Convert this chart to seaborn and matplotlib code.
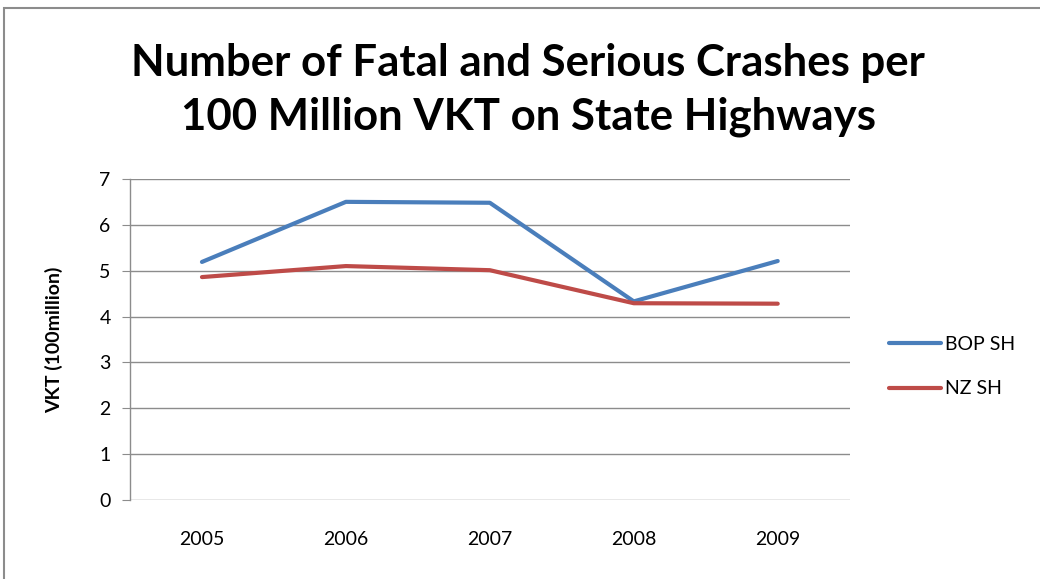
import pandas as pd
import matplotlib.pyplot as plt
import matplotlib.patches as patches
import seaborn as sns

years = ["2005", "2006", "2007", "2008", "2009"]
bop_sh = [5.19, 6.50, 6.48, 4.33, 5.21]
nz_sh = [4.86, 5.10, 5.01, 4.29, 4.28]
series_names = ["BOP SH", "NZ SH"]
colors = ["#4A7EBB", "#BE4B48"]

df = pd.DataFrame({
    "year": years * 2,
    "value": bop_sh + nz_sh,
    "series": [series_names[0]] * len(years) + [series_names[1]] * len(years),
})

sns.set_style("white")
plt.rcParams['font.family'] = ['Lato', 'DejaVu Sans']
plt.rcParams['text.color'] = 'black'
plt.rcParams['axes.labelcolor'] = 'black'
plt.rcParams['xtick.labelcolor'] = 'black'
plt.rcParams['ytick.labelcolor'] = 'black'

fig = plt.figure(figsize=(10.4, 5.79), dpi=100)
ax = fig.add_axes([0.125, 0.1364, 0.692, 0.5546])

# chart area border
fig.patches.append(patches.Rectangle((0.004, -0.05), 1.1, 1.036, transform=fig.transFigure,
                                     fill=False, edgecolor="#8c8c8c", linewidth=1.5))

sns.lineplot(data=df, x="year", y="value", hue="series", palette=colors,
             linewidth=3, sort=False, ax=ax)

ax.set_ylim(0, 7)
ax.set_xlim(-0.5, 4.5)
ax.set_yticks(range(0, 8))
ax.yaxis.grid(True, color="#8c8c8c", linewidth=1)
ax.xaxis.grid(False)
for s in ["top", "right", "bottom"]:
    ax.spines[s].set_visible(False)
ax.spines["left"].set_color("#8c8c8c")
ax.spines["left"].set_linewidth(1)
ax.tick_params(axis="y", length=6, color="#8c8c8c", labelsize=14, pad=8, left=True)
ax.tick_params(axis="x", length=0, labelsize=14, pad=22)
ax.set_xlabel("")
ax.set_ylabel("VKT (100million)", fontsize=14, fontweight="bold", labelpad=26)

fig.text(0.508, 0.845, "Number of Fatal and Serious Crashes per\n100 Million VKT on State Highways",
         ha="center", va="center", fontsize=31.5, fontweight="bold", linespacing=1.4)

ax.legend(title=None, loc="center left", bbox_to_anchor=(1.03, 0.415), frameon=False,
          fontsize=14, handlelength=2.7, handletextpad=0.2, labelspacing=1.4)

fig.savefig("out.png", dpi=100)
